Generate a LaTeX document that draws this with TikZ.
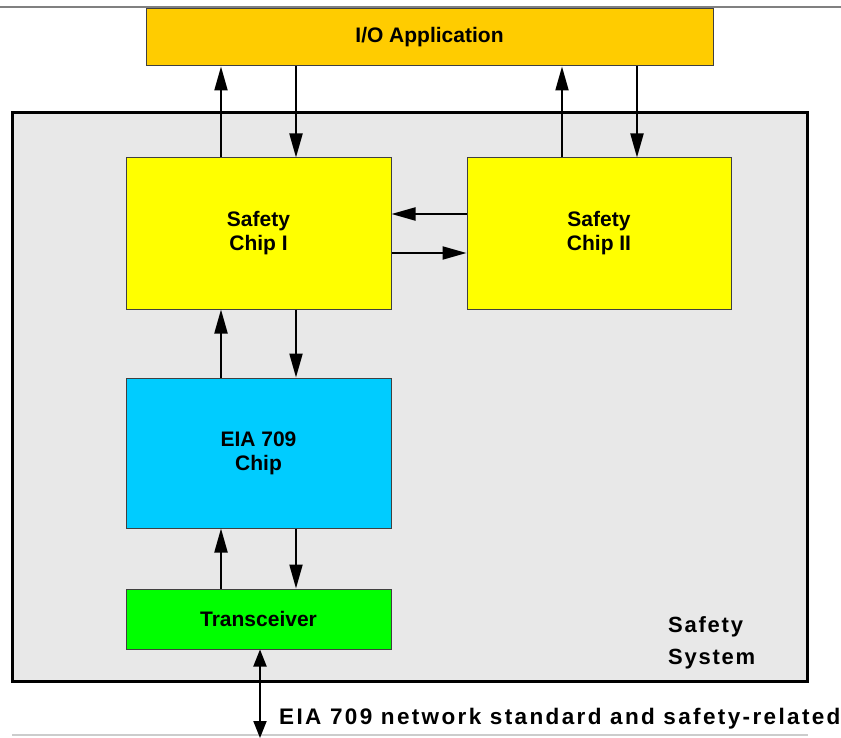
\documentclass[tikz,border=0pt]{standalone}
\usepackage{fontspec}
\setmainfont{Liberation Sans}
\usetikzlibrary{arrows.meta}
\definecolor{ioC}{HTML}{FFCC00}
\definecolor{chipC}{HTML}{FFFF00}
\definecolor{eiaC}{HTML}{00CCFF}
\definecolor{trC}{HTML}{00FF00}
\definecolor{sysC}{HTML}{E8E8E8}
\definecolor{edgeC}{HTML}{404040}
\tikzset{
  box/.style={draw=edgeC, line width=1pt, inner sep=0pt, align=center,
    font=\bfseries\fontsize{21}{24}\selectfont},
  arr/.style={line width=2pt, -{Triangle[length=24pt,width=13pt]}},
  darr/.style={line width=2pt, {Triangle[length=17pt,width=13pt]}-{Triangle[length=17pt,width=13pt]}},
  bigtxt/.style={inner sep=0pt, font=\bfseries\fontsize{22}{26}\selectfont\addfontfeature{LetterSpace=8}},
  nettxt/.style={inner sep=0pt, font=\bfseries\fontsize{22.5}{26}\selectfont\addfontfeature{LetterSpace=10.5}},
}
\begin{document}
\begin{tikzpicture}[x=1pt,y=-1pt]
\useasboundingbox (0,0) rectangle (841,738);
% separator lines
\draw[line width=1.5pt, gray] (0,7) -- (841,7);
\draw[line width=1.5pt, black!20] (12,735) -- (808,735);
% safety system
\node[draw=black, line width=3pt, fill=sysC, minimum width=795pt, minimum height=568pt, inner sep=0pt] (sys) at (409.5,397) {};
% boxes
\node[box, fill=ioC, minimum width=567pt, minimum height=57pt] (io) at (429.5,37.5) {I/O Application};
\node[box, fill=chipC, minimum width=265pt, minimum height=151pt] (c1) at (258.5,233.5) {Safety\\Chip I};
\node[box, fill=chipC, minimum width=264pt, minimum height=151pt] (c2) at (599,233.5) {Safety\\Chip II};
\node[box, fill=eiaC, minimum width=265pt, minimum height=150pt] (eia) at (258.5,453) {EIA 709\\Chip};
\node[box, fill=trC, minimum width=265pt, minimum height=60pt] (tr) at (258.5,619) {Transceiver};
% labels
\node[bigtxt, anchor=base west] (s1) at (668,632) {Safety};
\node[bigtxt, anchor=base west] (s2) at (668,664) {System};
\node[nettxt, anchor=base west] (net) at (279,724) {EIA 709 network standard and safety-related};
% connectors chip I <-> IO
\draw[arr] ([xshift=-37.5pt]c1.north) -- ([xshift=-37.5pt]c1.north |- io.south);
\draw[arr] ([xshift=37.5pt]c1.north |- io.south) -- ([xshift=37.5pt]c1.north);
% chip II <-> IO
\draw[arr] ([xshift=-37pt]c2.north) -- ([xshift=-37pt]c2.north |- io.south);
\draw[arr] ([xshift=38pt]c2.north |- io.south) -- ([xshift=38pt]c2.north);
% chip I <-> chip II
\draw[arr] ([yshift=19.5pt]c2.west) -- ([yshift=19.5pt]c1.east);
\draw[arr] ([yshift=-19.5pt]c1.east) -- ([yshift=-19.5pt]c2.west);
% chip I <-> EIA
\draw[arr] ([xshift=-37.5pt]eia.north) -- ([xshift=-37.5pt]c1.south);
\draw[arr] ([xshift=37.5pt]c1.south) -- ([xshift=37.5pt]eia.north);
% EIA <-> transceiver
\draw[arr] ([xshift=-37.5pt]tr.north) -- ([xshift=-37.5pt]eia.south);
\draw[arr] ([xshift=37.5pt]eia.south) -- ([xshift=37.5pt]tr.north);
% network
\coordinate (netend) at (260,738);
\draw[darr] (tr.south -| netend) -- (netend);
\end{tikzpicture}
\end{document}
